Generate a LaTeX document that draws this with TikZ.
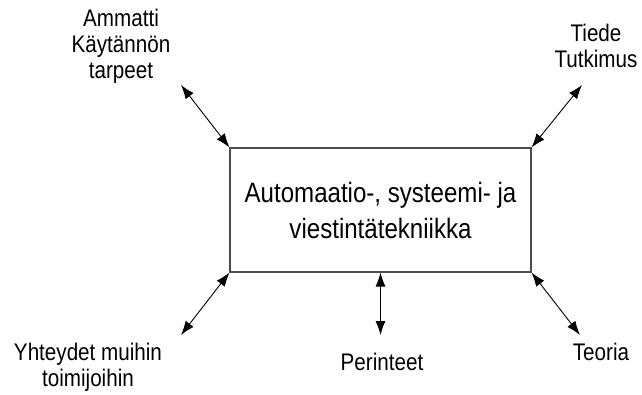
\documentclass[tikz,border=0pt]{standalone}
\usepackage{fontspec}
\setmainfont{Liberation Sans}[FakeStretch=0.86]
\usetikzlibrary{arrows.meta}
\tikzset{
  lbl/.style={align=center, inner sep=0pt, font=\fontsize{24}{26}\selectfont},
  mainbox/.style={draw=black!70, line width=1.1pt, minimum width=301pt, minimum height=124pt,
    align=center, inner sep=0pt, font=\fontsize{28}{36}\selectfont},
  link/.style={line width=0.9pt, {Latex[length=14pt,width=10pt]}-{Latex[length=14pt,width=10pt]}}
}
\begin{document}
\begin{tikzpicture}[x=1pt,y=-1pt]
  \useasboundingbox (0,0) rectangle (642,394);
  % central field
  \node[mainbox] (box) at (380.5,210) {Automaatio-, systeemi- ja\\viestintätekniikka};
  % surrounding labels
  \node[lbl] (prof) at (121,46) {Ammatti\\Käytännön\\tarpeet};
  \node[lbl] (sci)  at (596,46) {Tiede\\Tutkimus};
  \node[lbl] (oth)  at (88,367) {Yhteydet muihin\\toimijoihin};
  \node[lbl] (trad) at (382,362) {Perinteet};
  \node[lbl] (theo) at (601,352) {Teoria};
  % arrow ends near the labels
  \coordinate (eprof) at (181,85);
  \coordinate (esci)  at (582,85);
  \coordinate (eoth)  at (181,335);
  \coordinate (etrad) at (380.5,335);
  \coordinate (etheo) at (580,335);
  % two-way links
  \draw[link] (box.north west) -- (eprof);
  \draw[link] (box.north east) -- (esci);
  \draw[link] (box.south west) -- (eoth);
  \draw[link] (box.south) -- (etrad);
  \draw[link] (box.south east) -- (etheo);
\end{tikzpicture}
\end{document}
